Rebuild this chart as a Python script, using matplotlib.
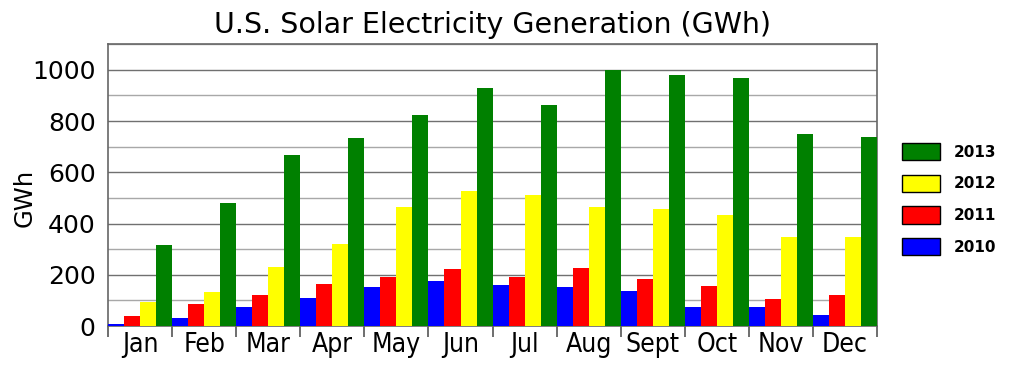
import matplotlib.pyplot as plt
import numpy as np

months = ["Jan", "Feb", "Mar", "Apr", "May", "Jun",
          "Jul", "Aug", "Sept", "Oct", "Nov", "Dec"]
gen_2010 = [9, 33, 76, 111, 151, 175, 159, 154, 137, 73, 76, 42]
gen_2011 = [39, 85, 121, 163, 190, 223, 190, 228, 185, 158, 107, 120]
gen_2012 = [95, 134, 229, 319, 463, 525, 510, 463, 458, 432, 347, 349]
gen_2013 = [317, 479, 668, 734, 825, 930, 861, 1001, 979, 966, 750, 737]

series = [("2010", gen_2010, "#0000ff"),
          ("2011", gen_2011, "#ff0000"),
          ("2012", gen_2012, "#ffff00"),
          ("2013", gen_2013, "#008000")]

fig = plt.figure(figsize=(10.24, 3.84), dpi=100)
ax = fig.add_axes([0.1055, 0.151, 0.751, 0.734])

x = np.arange(len(months))
w = 0.25
handles = []
for i, (name, vals, col) in enumerate(series):
    ax.bar(x - 0.5 + w * (i + 0.5), vals, width=w, color=col,
           edgecolor="none", zorder=3)
    handles.append(plt.Rectangle((0, 0), 1, 1, facecolor=col,
                                 edgecolor="black", linewidth=1))

ax.set_xlim(-0.5, 11.5)
ax.set_ylim(0, 1100)
ax.set_yticks(range(0, 1001, 200))
ax.set_yticks(range(100, 1101, 200), minor=True)
ax.grid(axis="y", which="major", color="#707070", linewidth=1, zorder=0)
ax.grid(axis="y", which="minor", color="#a8a8a8", linewidth=1, zorder=0)
ax.tick_params(axis="y", which="both", length=0, labelsize=18, pad=9)

ax.set_xticks(x)
ax.set_xticklabels(months, fontstretch="condensed")
ax.set_xticks(np.arange(-0.5, 12.0, 1.0), minor=True)
ax.tick_params(axis="x", which="major", length=0, labelsize=19, pad=4)
ax.tick_params(axis="x", which="minor", length=8, width=1.2,
               color="#555555", direction="out")

for s in ax.spines.values():
    s.set_color("#666666")
    s.set_linewidth(1.2)

ax.set_ylabel("GWh", fontsize=17.5)
ax.yaxis.set_label_coords(-0.093, 0.455)
ax.set_title("U.S. Solar Electricity Generation (GWh)", fontsize=20.5, pad=8)

leg = ax.legend(handles[::-1], [s[0] for s in series][::-1],
                loc="center left", bbox_to_anchor=(1.014, 0.45),
                frameon=False, prop={"weight": "bold", "size": 11},
                handlelength=2.5, handleheight=1.35, labelspacing=0.95,
                handletextpad=0.9)

plt.savefig("out.png", dpi=100)
